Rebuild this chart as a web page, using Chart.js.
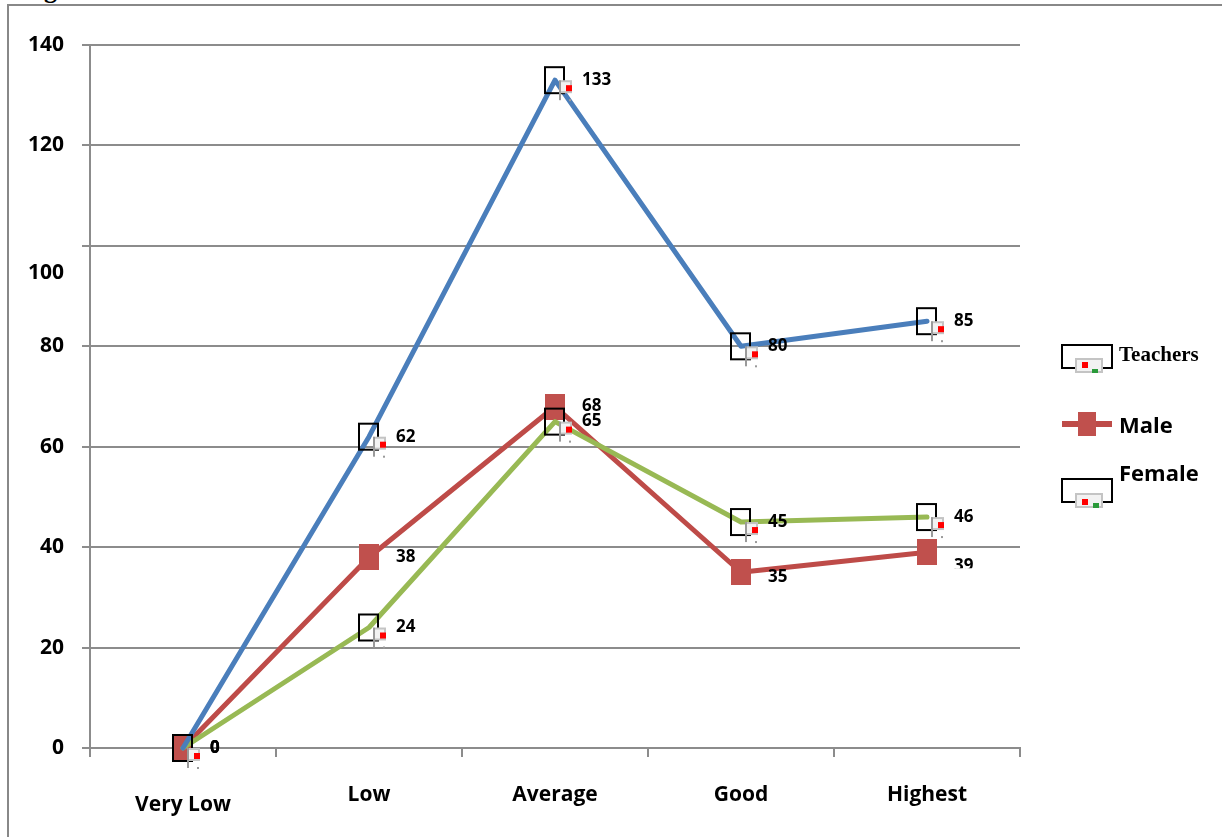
<!DOCTYPE html>
<html>
<head>
<meta charset="utf-8">
<script src="https://cdn.jsdelivr.net/npm/chart.js@4/dist/chart.umd.min.js"></script>
<style>
  html, body { margin: 0; padding: 0; background: #fff; }
  body { width: 1222px; height: 837px; position: relative; overflow: hidden; }
  #cap { position: absolute; left: 21px; top: -22px; font: bold 26px "Liberation Serif", serif; line-height: 24px; color: #000; white-space: nowrap; }
  #frame { position: absolute; left: 7px; top: 4px; width: 1300px; height: 900px; border-top: 2px solid #888; border-left: 2px solid #888; }
  canvas { position: absolute; left: 0; top: 0; }
</style>
</head>
<body>
<div id="cap">Figure</div>
<div id="frame"></div>
<canvas id="c" width="1222" height="837"></canvas>
<script>
// Ratings per category for each group
const categories = ['Very Low', 'Low', 'Average', 'Good', 'Highest'];
const teachers = [0, 62, 133, 80, 85];
const male = [0, 38, 68, 35, 39];
const female = [0, 24, 65, 45, 46];
const yTicks = [0, 20, 40, 60, 80, 100, 120, 140];

const GRID = '#8c8c8c';
const FONT = '"Open Sans", "Liberation Sans", sans-serif';
const BLUE = '#4A7EBB', RED = '#BE4B48', GREEN = '#98B954', RED_FILL = '#C0504D';

// Hollow frame marker with a small placeholder glyph at its lower right
function drawBoxGlyph(g, cx, cy) {
  g.strokeStyle = '#000';
  g.lineWidth = 2;
  g.strokeRect(cx - 10, cy - 13, 19, 26);
  g.fillStyle = '#c4c4c4';
  g.fillRect(cx + 4, cy, 13, 13);
  g.fillStyle = '#f2f2f2';
  g.fillRect(cx + 6, cy + 2, 9, 9);
  g.fillStyle = '#ff0000';
  g.fillRect(cx + 11, cy + 5, 6, 6);
  g.fillStyle = '#9a9a9a';
  g.fillRect(cx + 4, cy, 2, 20);
  g.fillRect(cx + 14, cy + 19, 2, 2);
}
function boxMarker() {
  const c = document.createElement('canvas');
  c.width = 40; c.height = 50;
  drawBoxGlyph(c.getContext('2d'), 20, 25);
  return c;
}
function squareMarker() {
  const c = document.createElement('canvas');
  c.width = 20; c.height = 26;
  const g = c.getContext('2d');
  g.fillStyle = RED_FILL;
  g.fillRect(0, 0, 20, 26);
  return c;
}
const boxImg = boxMarker();
const sqImg = squareMarker();

// Value text beside every point
const valueLabels = {
  id: 'valueLabels',
  afterDatasetsDraw(chart, args, opts) {
    const ctx = chart.ctx;
    chart.data.datasets.forEach((ds, i) => {
      const meta = chart.getDatasetMeta(i);
      const shift = ds.labelShift || [];
      const clipBelow = ds.labelClip || [];
      meta.data.forEach((pt, j) => {
        ctx.save();
        if (clipBelow[j]) {
          ctx.beginPath();
          ctx.rect(0, 0, chart.width, pt.y + clipBelow[j]);
          ctx.clip();
        }
        ctx.font = opts.font;
        ctx.fillStyle = '#000';
        ctx.textAlign = 'left';
        ctx.textBaseline = 'middle';
        ctx.fillText(String(ds.data[j]), pt.x + opts.dx, pt.y + (shift[j] || 0));
        ctx.restore();
      });
    });
  }
};

// Legend on the right of the plot
const sideLegend = {
  id: 'sideLegend',
  afterDraw(chart) {
    const ctx = chart.ctx;
    const x0 = chart.chartArea.right + 42;
    const ds = chart.data.datasets;
    ctx.save();
    // Teachers
    ctx.strokeStyle = '#000'; ctx.lineWidth = 2;
    ctx.strokeRect(x0, 345, 50, 23);
    ctx.fillStyle = '#c4c4c4'; ctx.fillRect(x0 + 13, 358, 28, 15);
    ctx.fillStyle = '#f2f2f2'; ctx.fillRect(x0 + 15, 360, 24, 11);
    ctx.fillStyle = '#ff0000'; ctx.fillRect(x0 + 20, 362, 6, 6);
    ctx.fillStyle = '#2a9a3a'; ctx.fillRect(x0 + 30, 369, 6, 4);
    ctx.fillStyle = '#000';
    ctx.textAlign = 'left'; ctx.textBaseline = 'middle';
    ctx.font = 'bold 21px "Liberation Serif", serif';
    ctx.fillText(ds[0].label, x0 + 57, 356);
    // Male
    ctx.strokeStyle = RED; ctx.lineWidth = 6;
    ctx.beginPath(); ctx.moveTo(x0, 424); ctx.lineTo(x0 + 50, 424); ctx.stroke();
    ctx.fillStyle = RED_FILL; ctx.fillRect(x0 + 16, 412, 18, 24);
    ctx.fillStyle = '#000';
    ctx.font = 'bold 22px ' + FONT;
    ctx.fillText(ds[1].label, x0 + 57, 427);
    // Female
    ctx.strokeStyle = '#000'; ctx.lineWidth = 2;
    ctx.strokeRect(x0, 479, 50, 23);
    ctx.fillStyle = '#c4c4c4'; ctx.fillRect(x0 + 13, 493, 28, 15);
    ctx.fillStyle = '#f2f2f2'; ctx.fillRect(x0 + 15, 495, 24, 11);
    ctx.fillStyle = '#ff0000'; ctx.fillRect(x0 + 20, 499, 6, 6);
    ctx.fillStyle = '#2a9a3a'; ctx.fillRect(x0 + 31, 503, 6, 5);
    ctx.fillStyle = '#000';
    ctx.font = 'bold 22px ' + FONT;
    ctx.fillText(ds[2].label, x0 + 57, 475);
    ctx.restore();
  }
};

new Chart(document.getElementById('c'), {
  type: 'line',
  data: {
    labels: categories,
    datasets: [
      { label: 'Teachers', data: teachers, borderColor: BLUE, backgroundColor: BLUE,
        borderWidth: 5, pointStyle: boxImg, pointRadius: 10, order: 1 },
      { label: 'Male', data: male, borderColor: RED, backgroundColor: RED_FILL,
        borderWidth: 5, pointStyle: sqImg, pointRadius: 10, order: 3,
        labelShift: [0, 0, 0, 5, 14], labelClip: [0, 0, 0, 0, 16] },
      { label: 'Female', data: female, borderColor: GREEN, backgroundColor: GREEN,
        borderWidth: 5, pointStyle: boxImg, pointRadius: 10, order: 2 }
    ]
  },
  options: {
    responsive: false,
    animation: false,
    events: [],
    clip: false,
    elements: { line: { tension: 0, borderJoinStyle: 'round', borderCapStyle: 'round', fill: false } },
    layout: { padding: { top: 45, right: 202, bottom: 0, left: 0 } },
    plugins: {
      legend: { display: false },
      tooltip: { enabled: false },
      valueLabels: { font: 'bold 17px ' + FONT, dx: 27 }
    },
    scales: {
      x: {
        type: 'category',
        offset: true,
        grid: { display: true, offset: true, drawOnChartArea: false, drawTicks: true,
                tickLength: 9, color: GRID, lineWidth: 2 },
        border: { display: true, color: GRID, width: 2 },
        ticks: {
          color: '#000', padding: 25, maxRotation: 0, autoSkip: false,
          font: (c) => ({ family: FONT, weight: 'bold', size: 21,
                          lineHeight: c.index === 0 ? 2.15 : 1.2 })
        },
        afterFit(s) { s.height = 89; }
      },
      y: {
        min: 0, max: 140,
        afterBuildTicks(s) { s.ticks = yTicks.map(v => ({ value: v })); },
        grid: { color: GRID, lineWidth: 2, tickLength: 8, drawTicks: true },
        border: { display: true, color: GRID, width: 2 },
        ticks: {
          color: '#000', padding: 18, autoSkip: false,
          callback: (v) => (v === 100 ? ['', String(v)] : String(v)),
          font: (c) => ({ family: FONT, weight: 'bold', size: 21,
                          lineHeight: (c.tick && c.tick.value === 100) ? 2.57 : 1.2 })
        },
        afterFit(s) { s.width = 90; }
      }
    }
  },
  plugins: [valueLabels, sideLegend]
});
</script>
</body>
</html>
